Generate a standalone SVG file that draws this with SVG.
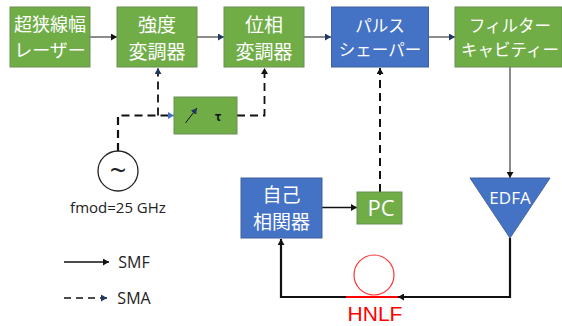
<svg xmlns="http://www.w3.org/2000/svg" width="562" height="326" viewBox="0 0 562 326">
<style>
.g{fill:#70ad47;stroke:#6a8f55;stroke-width:1}
.b{fill:#4472c4;stroke:#41619c;stroke-width:1}
text{font-family:"Noto Sans CJK JP","Noto Sans",sans-serif;text-anchor:middle}
.w{fill:#fff;font-size:19px}
.s{font-size:18px}
.k{font-size:16.500px}
.l{fill:#222;font-family:"Open Sans","Noto Sans",sans-serif;font-size:15px}
.m{font-size:16px}
.o{font-family:"Open Sans","Noto Sans",sans-serif}
.c{fill:none;stroke:#111;stroke-width:1.500}
.h{fill:none;stroke:#111;stroke-width:2.200}
.t{fill:none;stroke:#666;stroke-width:1.500}
.d{fill:none;stroke:#111;stroke-width:1.800;stroke-dasharray:8 5}
</style>
<defs>
<marker id="a" markerUnits="userSpaceOnUse" markerWidth="7" markerHeight="7" refX="6" refY="3.500" orient="auto"><path d="M0 0L6 3.500L0 7Z" fill="#111"/></marker>
<marker id="n" markerUnits="userSpaceOnUse" markerWidth="7" markerHeight="7" refX="6" refY="3.500" orient="auto"><path d="M0 0L6 3.500L0 7Z" fill="#1f3864"/></marker>
<marker id="u" markerUnits="userSpaceOnUse" markerWidth="7" markerHeight="7" refX="6" refY="3.500" orient="auto"><path d="M0 0L6 3.500L0 7Z" fill="#4472c4"/></marker>
</defs>
<g id="connectors">
<path class="t" d="M90 37H117" marker-end="url(#a)"/>
<path class="t" d="M197 37H224" marker-end="url(#n)"/>
<path class="t" d="M304 37H331" marker-end="url(#n)"/>
<path class="t" d="M429 37H455" marker-end="url(#n)"/>
<path class="t" d="M510 67V178" marker-end="url(#a)"/>
<path class="d" d="M158 115.500V68" marker-end="url(#n)"/>
<path class="d" style="stroke-width:2.200" d="M118 151V115.500H174" marker-end="url(#u)"/>
<path class="d" d="M237 115.500H264.500V68" marker-end="url(#a)"/>
<path class="d" style="stroke-width:2" d="M380 192V68" marker-end="url(#a)"/>
<path class="c" d="M322 207.500H357" marker-end="url(#a)"/>
<path class="h" d="M510 238V297H398" marker-end="url(#a)"/>
<path class="h" d="M346 297H281V239" marker-end="url(#a)"/>
</g>
<g id="laser"><rect class="g" x="10" y="7" width="80" height="60"/><text class="w s" x="50" y="31">超狭線幅</text><text class="w s" x="50" y="57">レーザー</text></g>
<g id="intensity-modulator"><rect class="g" x="117" y="7" width="80" height="60"/><text class="w" x="157" y="31.500">強度</text><text class="w" x="157" y="58.500">変調器</text></g>
<g id="phase-modulator"><rect class="g" x="224" y="7" width="80" height="60"/><text class="w" x="264" y="31.500">位相</text><text class="w" x="264" y="58.500">変調器</text></g>
<g id="pulse-shaper"><rect class="b" x="331.500" y="7" width="97" height="60"/><text class="w k" x="380" y="32">パルス</text><text class="w k" x="380" y="56">シェーパー</text></g>
<g id="filter-cavity"><rect class="g" x="455" y="7" width="107" height="60"/><text class="w k" x="510" y="32">フィルター</text><text class="w k" x="510" y="56">キャビティー</text></g>
<g id="delay"><rect class="g" x="174" y="97" width="63" height="37"/><path d="M185.500 123L197 108" stroke="#111" stroke-width="1" fill="none" marker-end="url(#n)"/><text x="218" y="121" style="font-size:12px;font-weight:bold" fill="#111">τ</text></g>
<g id="rf-source"><circle cx="118" cy="171" r="20" fill="#fff" stroke="#222" stroke-width="1.300"/><text class="o" x="118" y="181" style="font-size:29px" fill="#222">~</text><text class="l" x="118" y="213">fmod=25 GHz</text></g>
<g id="autocorrelator"><rect class="b" x="241" y="178" width="81" height="60"/><text class="w" x="281.500" y="202">自己</text><text class="w" x="281.500" y="229">相関器</text></g>
<g id="pc"><rect class="g" x="357" y="192" width="45" height="32"/><text class="o" x="381" y="216" style="font-size:22px" fill="#fff">PC</text></g>
<g id="edfa"><polygon points="470,178 550,178 510,238" fill="#4472c4" stroke="#41619c"/><text class="o" x="510" y="204" style="font-size:17px" fill="#fff">EDFA</text></g>
<g id="hnlf"><circle cx="374" cy="275" r="20" fill="none" stroke="#f33" stroke-width="1.200"/><path d="M346 297H398" stroke="#f00" stroke-width="2"/><text x="375" y="321" style="font-size:21px;font-family:'Liberation Sans',sans-serif" fill="#f00">HNLF</text></g>
<g id="legend"><path class="c" d="M64 262H109" marker-end="url(#a)"/><text class="l m" x="134" y="268">SMF</text><path d="M64 298H107" fill="none" stroke="#111" stroke-width="1.300" stroke-dasharray="7 5" marker-end="url(#n)"/><text class="l m" x="134" y="304">SMA</text></g>
</svg>
